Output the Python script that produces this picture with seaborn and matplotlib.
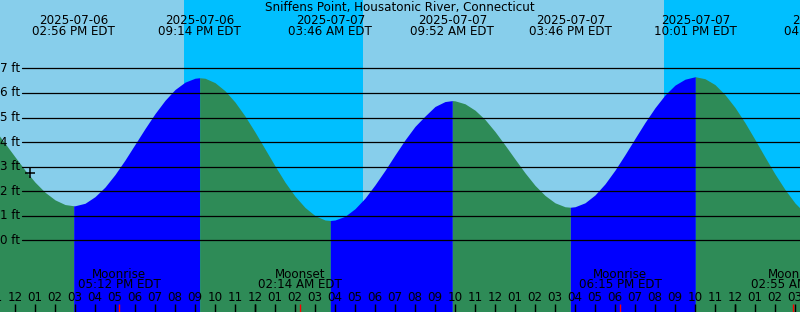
import numpy as np
import pandas as pd
import matplotlib
matplotlib.use("Agg")
import matplotlib.pyplot as plt
import seaborn as sns

# ---------------- data ----------------
title = "Sniffens Point, Housatonic River, Connecticut"

# tide height (ft) read every half hour; hours relative to 2025-07-07 00:00 EDT
curve_hours = np.arange(-13.0, 27.75, 0.5)
curve_feet = [
    4.49, 3.95, 3.40, 2.86, 2.37, 1.96, 1.65, 1.46, 1.41,
    1.51, 1.78, 2.17, 2.68, 3.27, 3.91, 4.55, 5.16, 5.70, 6.14, 6.44, 6.60,
    6.60, 6.42, 6.09, 5.63, 5.06, 4.41,
    3.72, 3.03, 2.37, 1.80, 1.34, 1.01, 0.83, 0.83, 0.98, 1.29,
    1.72, 2.26, 2.85, 3.48, 4.09, 4.64, 5.06, 5.45, 5.65, 5.68,
    5.56, 5.30, 4.92, 4.43, 3.88, 3.31, 2.75, 2.24, 1.83, 1.53,
    1.37, 1.37, 1.53, 1.85, 2.30, 2.86, 3.49, 4.15, 4.80, 5.40,
    5.92, 6.32, 6.56, 6.66, 6.58, 6.34, 5.93, 5.41, 4.79, 4.10,
    3.39, 2.70, 2.07, 1.52, 1.11,
]

# high / low tide events
event_hours = [-9.067, -2.767, 3.767, 9.867, 15.767, 22.017, 28.567]
event_feet = [1.41, 6.62, 0.81, 5.69, 1.35, 6.66, 0.72]
event_dates = ["2025-07-06", "2025-07-06", "2025-07-07", "2025-07-07",
               "2025-07-07", "2025-07-07", "2025-07-08"]
event_times = ["02:56 PM EDT", "09:14 PM EDT", "03:46 AM EDT", "09:52 AM EDT",
               "03:46 PM EDT", "10:01 PM EDT", "04:34 AM EDT"]

# moon events
moon_hours = [-6.8, 2.233, 18.25, 26.917]
moon_names = ["Moonrise", "Moonset", "Moonrise", "Moonset"]
moon_times = ["05:12 PM EDT", "02:14 AM EDT", "06:15 PM EDT", "02:55 AM EDT"]

# night periods
night_starts = [-3.55, 20.45]
night_ends = [5.42, 27.5]

# axis ticks
level_feet = [0, 1, 2, 3, 4, 5, 6, 7]
level_labels = ["0 ft", "1 ft", "2 ft", "3 ft", "4 ft", "5 ft", "6 ft", "7 ft"]
hour_ticks = list(range(-13, 28))
hour_labels = ["%02d" % (((h % 24) % 12) or 12) for h in hour_ticks]
midnight_hours = [0, 24]

now_hour = -11.25
now_feet = 2.76

# ---------------- style ----------------
DAY = "#87CEEB"
NIGHT = "#00BFFF"
RISING = "#0000FF"
FALLING = "#2E8B57"
FS = 8.6

X0, X1 = -12.75, 27.25
Y0, Y1 = -2.914, 9.784

sns.set_style("white")
plt.rcParams["font.family"] = ["DejaVu Sans"]

fig = plt.figure(figsize=(8.0, 3.12), dpi=100)
ax = fig.add_axes([0, 0, 1, 1])
ax.set_xlim(X0, X1)
ax.set_ylim(Y0, Y1)
ax.axis("off")

# background
ax.axvspan(X0 - 1, X1 + 1, color=DAY, lw=0, zorder=0)
for a, b in zip(night_starts, night_ends):
    ax.axvspan(a, b, color=NIGHT, lw=0, zorder=0.5)

# tide fill
df = pd.concat([
    pd.DataFrame({"hour": curve_hours, "feet": curve_feet}),
    pd.DataFrame({"hour": event_hours, "feet": event_feet}),
]).sort_values("hour").drop_duplicates("hour").reset_index(drop=True)

bounds = [df.hour.min()] + [h for h in event_hours if df.hour.min() < h < df.hour.max()] + [df.hour.max()]
for a, b in zip(bounds[:-1], bounds[1:]):
    seg = df[(df.hour >= a) & (df.hour <= b)]
    col = RISING if seg.feet.iloc[-1] > seg.feet.iloc[0] else FALLING
    ax.fill_between(seg.hour, seg.feet, Y0 - 1, color=col, lw=0,
                    antialiased=False, zorder=1)

# level lines
for f, lab in zip(level_feet, level_labels):
    ax.axhline(f, xmin=22 / 800, xmax=1, color="black", lw=0.9, zorder=2)
    ax.text(20 / 800, f, lab, transform=ax.get_yaxis_transform(),
            ha="right", va="center", fontsize=FS, color="black", zorder=3)

# now marker
ax.plot([now_hour], [now_feet], marker="+", ms=7, mew=1.1, color="black", zorder=4)

# title and event labels
ax.text(0.5, 1 - 7.3 / 312, title, transform=ax.transAxes, ha="center",
        va="center", fontsize=FS, color="black")
xt = ax.get_xaxis_transform()
for h, d, t in zip(event_hours, event_dates, event_times):
    ax.text(h, 1 - 20.0 / 312, d, transform=xt, ha="center", va="center",
            fontsize=FS, color="black")
    ax.text(h, 1 - 31.7 / 312, t, transform=xt, ha="center", va="center",
            fontsize=FS, color="black")

# moon labels
for h, n, t in zip(moon_hours, moon_names, moon_times):
    ax.text(h, 1 - 274.0 / 312, n, transform=xt, ha="center", va="center",
            fontsize=FS, color="black", zorder=5)
    ax.text(h, 1 - 285.0 / 312, t, transform=xt, ha="center", va="center",
            fontsize=FS, color="black", zorder=5)

# hour labels
for h, lab in zip(hour_ticks, hour_labels):
    ax.text(h, 1 - 297.5 / 312, lab, transform=xt, ha="center", va="center",
            fontsize=FS, color="black", zorder=5)

# ticks (seaborn rug plots)
tick_h = 8.0 / 312
sns.rugplot(x=hour_ticks, height=tick_h, color="black", lw=0.9, ax=ax,
            expand_margins=False, zorder=5)
sns.rugplot(x=midnight_hours, height=tick_h, color="black", lw=2.2, ax=ax,
            expand_margins=False, zorder=5)
sns.rugplot(x=moon_hours, height=tick_h, color="red", lw=0.9, ax=ax,
            expand_margins=False, zorder=6)

ax.set_xlim(X0, X1)
ax.set_ylim(Y0, Y1)
fig.savefig("out.png", dpi=100)
